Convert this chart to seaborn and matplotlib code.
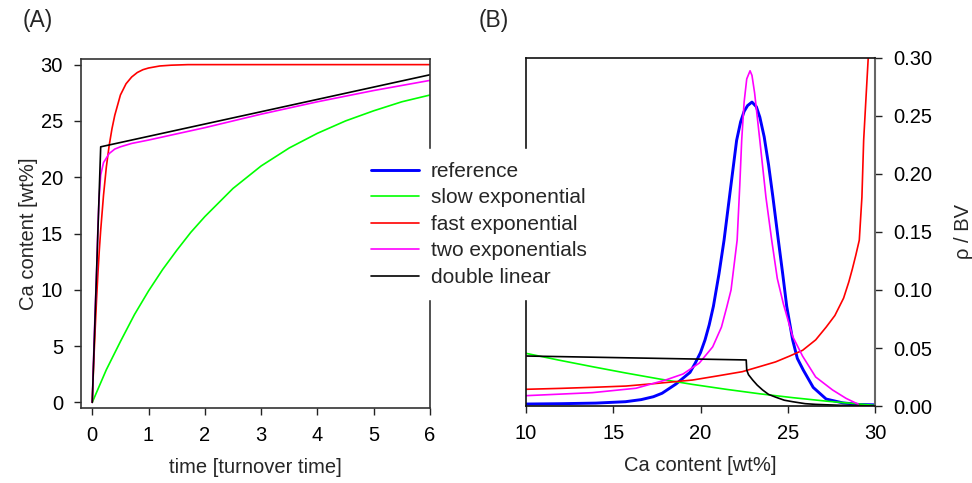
import pandas as pd
import matplotlib
matplotlib.use("Agg")
import matplotlib.pyplot as plt
import seaborn as sns

# stile
sns.set_theme(style="ticks")
plt.rcParams['font.family'] = ['Liberation Sans', 'DejaVu Sans']
plt.rcParams['font.size'] = 14.5
plt.rcParams['axes.labelsize'] = 14.5
plt.rcParams['xtick.labelsize'] = 14.5
plt.rcParams['ytick.labelsize'] = 14.5

# ---- dati pannello (A): contenuto di Ca nel tempo ----
t_slow = [0, 0.25, 0.5, 0.75, 1.0, 1.25, 1.5, 1.75, 2.0, 2.5, 3.0, 3.5, 4.0, 4.5, 5.0, 5.5, 6.0]
slow_a = [0, 2.9, 5.4, 7.8, 9.9, 11.8, 13.5, 15.1, 16.5, 19.0, 21.0, 22.6, 23.9, 25.0, 25.9, 26.7, 27.3]

t_fast = [0, 0.025, 0.05, 0.075, 0.1, 0.125, 0.15, 0.2, 0.25, 0.3, 0.35, 0.4, 0.5, 0.6, 0.7,
          0.8, 0.9, 1.0, 1.2, 1.4, 1.7, 2.0, 3.0, 4.0, 5.0, 6.0]
fast_a = [0, 3.4, 6.3, 9.0, 11.4, 13.5, 15.3, 18.4, 20.9, 22.8, 24.3, 25.5, 27.3, 28.3, 28.9,
          29.3, 29.55, 29.7, 29.88, 29.95, 30.0, 30.0, 30.0, 30.0, 30.0, 30.0]

t_two = [0, 0.03, 0.05, 0.08, 0.1, 0.12, 0.15, 0.2, 0.3, 0.4, 0.5, 0.7, 1.0, 2.0, 3.0, 4.0, 5.0, 6.0]
two_a = [0, 5.0, 8.0, 12.0, 15.5, 18.0, 20.2, 21.3, 22.1, 22.5, 22.7, 23.0, 23.3, 24.4, 25.6, 26.7, 27.7, 28.6]

t_lin = [0, 0.15, 6.0]
lin_a = [0, 22.7, 29.1]

# ---- dati pannello (B): densita' rho / BV ----
ca_ref = [10, 12, 14, 15.7, 16.6, 17.3, 17.8, 18.2, 18.6, 19.0, 19.4, 19.7, 20.0, 20.26, 20.5, 20.74,
          21.06, 21.35, 21.7, 22.07, 22.3, 22.5, 22.7, 22.95, 23.2, 23.4, 23.65, 23.9, 24.15, 24.46,
          24.71, 24.94, 25.28, 25.55, 25.89, 26.46, 27.2, 28.15, 29.1, 30]
rho_ref = [0.0017, 0.002, 0.0025, 0.0037, 0.0055, 0.008, 0.011, 0.015, 0.019, 0.024, 0.029, 0.037, 0.046, 0.057, 0.070, 0.086,
           0.114, 0.143, 0.185, 0.229, 0.245, 0.254, 0.259, 0.262, 0.258, 0.249, 0.232, 0.208, 0.180, 0.143,
           0.114, 0.086, 0.057, 0.041, 0.031, 0.016, 0.006, 0.0027, 0.0013, 0.001]

ca_slow = [10, 11.9, 13.8, 15.7, 17.64, 19.55, 21.46, 23.4, 25.28, 27.2, 29.1, 30]
rho_slow = [0.0454, 0.0395, 0.0339, 0.0285, 0.0233, 0.0186, 0.0144, 0.0105, 0.0072, 0.0042, 0.0017, 0.0005]

ca_fast = [10, 12, 14, 15.73, 17.5, 19.55, 21, 22.4, 23.4, 24.3, 25.1, 25.85, 26.6, 27.2, 27.7,
           28.2, 28.5, 28.7, 28.9, 29.1, 29.25, 29.35, 29.5, 29.63]
rho_fast = [0.0144, 0.0152, 0.0162, 0.0172, 0.0195, 0.0224, 0.026, 0.0296, 0.034, 0.038, 0.043, 0.048, 0.057, 0.068, 0.078,
            0.093, 0.107, 0.118, 0.130, 0.143, 0.180, 0.229, 0.270, 0.305]

ca_two = [10, 13.8, 16.3, 18.0, 19.0, 19.93, 20.7, 21.2, 21.5, 21.75, 22.1, 22.25, 22.36, 22.5, 22.65, 22.84, 22.95, 23.1,
          23.4, 23.75, 24.08, 24.4, 24.75, 25.28, 25.85, 26.6, 27.57, 28.34, 29.04]
rho_two = [0.0089, 0.0115, 0.0153, 0.0224, 0.0276, 0.037, 0.051, 0.068, 0.085, 0.100, 0.143, 0.190, 0.229, 0.262, 0.282, 0.289, 0.285, 0.270,
           0.229, 0.180, 0.143, 0.110, 0.088, 0.060, 0.043, 0.025, 0.0138, 0.0066, 0.0015]

ca_lin = [10, 22.62, 22.65, 22.75, 22.99, 23.25, 23.56, 23.9, 24.33, 24.8, 25.28, 26.0, 26.6, 28.0, 29.1, 30]
rho_lin = [0.0431, 0.0397, 0.031, 0.027, 0.0224, 0.018, 0.0138, 0.010, 0.0075, 0.005, 0.0037, 0.002, 0.0014, 0.0006, 0.0003, 0.0]

# nomi e colori delle serie
names = ['reference', 'slow exponential', 'fast exponential', 'two exponentials', 'double linear']
colors = ['#0000ff', '#00ff00', '#ff0000', '#ff00ff', '#000000']
widths = [2.1, 1.2, 1.2, 1.2, 1.2]

serie_a = {
    'slow exponential': (t_slow, slow_a),
    'fast exponential': (t_fast, fast_a),
    'two exponentials': (t_two, two_a),
    'double linear': (t_lin, lin_a),
}
serie_b = {
    'reference': (ca_ref, rho_ref),
    'slow exponential': (ca_slow, rho_slow),
    'fast exponential': (ca_fast, rho_fast),
    'two exponentials': (ca_two, rho_two),
    'double linear': (ca_lin, rho_lin),
}

fig = plt.figure(figsize=(9.72, 4.83), dpi=100)
ax_a = fig.add_axes([81 / 972, 1 - 408 / 483, 349 / 972, 349 / 483])
ax_b = fig.add_axes([526 / 972, 1 - 406 / 483, 349 / 972, 348 / 483])

# pannello A
for nome, col, lw in zip(names, colors, widths):
    if nome not in serie_a:
        continue
    x, y = serie_a[nome]
    df = pd.DataFrame({'x': x, 'y': y})
    sns.lineplot(data=df, x='x', y='y', ax=ax_a, color=col, linewidth=lw,
                 estimator=None, sort=False, legend=False)

ax_a.set_xlim(-0.2, 6.0)
ax_a.set_ylim(-0.5, 30.5)
ax_a.set_xticks(range(0, 7))
ax_a.set_yticks(range(0, 31, 5))
ax_a.set_xlabel('time [turnover time]', labelpad=9)
ax_a.set_ylabel('Ca content [wt%]', labelpad=2)
ax_a.tick_params(direction='out', length=5, width=1, pad=8, colors='#222222', labelcolor='black')
for s in ax_a.spines.values():
    s.set_color('#333333')
    s.set_linewidth(1.2)

# pannello B
for nome, col, lw in zip(names, colors, widths):
    x, y = serie_b[nome]
    df = pd.DataFrame({'x': x, 'y': y})
    sns.lineplot(data=df, x='x', y='y', ax=ax_b, color=col, linewidth=lw,
                 estimator=None, sort=False, label=nome)

ax_b.set_xlim(10, 30)
ax_b.set_ylim(0, 0.30)
ax_b.set_xticks(range(10, 31, 5))
ax_b.set_yticks([0, 0.05, 0.10, 0.15, 0.20, 0.25, 0.30])
ax_b.yaxis.set_major_formatter(matplotlib.ticker.FormatStrFormatter('%.2f'))
ax_b.yaxis.tick_right()
ax_b.yaxis.set_label_position('right')
ax_b.set_xlabel('Ca content [wt%]', labelpad=9)
ax_b.set_ylabel('ρ / BV', labelpad=16)
ax_b.tick_params(direction='out', length=5, width=1, pad=8, colors='#222222', labelcolor='black')
for s in ax_b.spines.values():
    s.set_color('#111111')
    s.set_linewidth(1.2)
ax_b.spines['right'].set_color('#666666')
ax_b.spines['right'].set_linewidth(1.5)

handles, labels = ax_b.get_legend_handles_labels()
ax_b.get_legend().remove()
leg = fig.legend(handles, labels, loc='upper left', bbox_to_anchor=(348 / 972, 1 - 139 / 483),
                 frameon=True, fancybox=False, framealpha=1, edgecolor='white', facecolor='white',
                 handlelength=2.3, handletextpad=0.58, labelspacing=0.36, borderpad=0.6, fontsize=15)
leg.set_zorder(10)

# etichette dei pannelli
fig.text(38 / 972, 1 - 20 / 483, '(A)', fontsize=16.5, va='center', ha='center')
fig.text(494 / 972, 1 - 20 / 483, '(B)', fontsize=16.5, va='center', ha='center')

plt.savefig('out.png', dpi=100)
plt.close()
